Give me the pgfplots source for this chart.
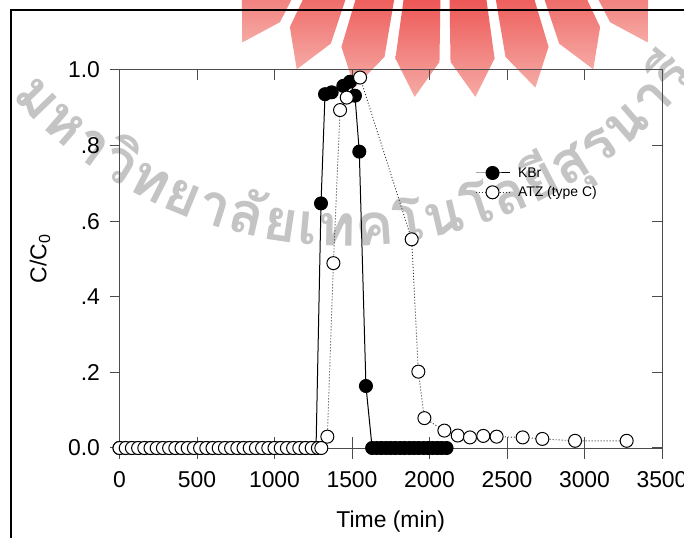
\documentclass[border=0pt]{standalone}
\usepackage{fontspec}
\setmainfont{Liberation Sans}
\newfontfamily\thaifont[Script=Thai]{Loma}
\usepackage{pgfplots}
\pgfplotsset{compat=1.18}
\usetikzlibrary{decorations.text}

\definecolor{axisgray}{gray}{0.3}
\definecolor{wmred}{RGB}{232,44,44}
\definecolor{wmpink}{RGB}{246,170,165}
\definecolor{wmgray}{RGB}{196,196,196}

\begin{document}
\begin{tikzpicture}
\useasboundingbox (0,0) rectangle (684bp,538bp);

% background emblem: a fan of pointed blades
\begin{scope}[x=1bp,y=1bp,shift={(445,838)}]
  \foreach \k in {0,...,7} {
    \pgfmathsetmacro\a{-30.625+8.75*\k}
    \shade[top color=wmred, bottom color=wmpink]
      ({270+\a-3.5}:250) -- ({270+\a-3.5}:362) -- ({270+\a}:398)
      -- ({270+\a+3.5}:362) -- ({270+\a+3.5}:250) -- cycle;
  }
\end{scope}

% university name along an arc
\begin{scope}[x=1bp,y=1bp]
  \path[decorate, decoration={text along path, text color=wmgray,
        text align=fit to path,
        text={|\thaifont\bfseries\fontsize{58}{58}\selectfont|มหา{วิ}ทยา{ลั}ยเทคโนโล{ยี}{สุ}รนา{รี}}}]
    (345,738) ++(221.6:446) arc[start angle=221.6, end angle=322, radius=446];
\end{scope}

% tick marks: left out, bottom crossing, top and right in
\begin{scope}[x=1bp,y=1bp,axisgray,line width=1bp]
  \foreach \k in {0,...,7} {
    \pgfmathsetmacro\xx{119.5+77.5*\k}
    \draw (\xx,79) -- (\xx,101);
    \draw (\xx,468) -- (\xx,458);
  }
  \foreach \k in {0,...,5} {
    \pgfmathsetmacro\yy{90+75.6*\k}
    \draw (109.5,\yy) -- (119.5,\yy);
    \draw (662,\yy) -- (652,\yy);
  }
\end{scope}

\begin{axis}[
  at={(119.5bp,90bp)}, anchor=south west,
  width=542.5bp, height=378bp, scale only axis,
  xmin=0, xmax=3500, ymin=0, ymax=1,
  xtick={0,500,...,3500},
  ytick={0,0.2,0.4,0.6,0.8,1.0},
  yticklabels={0.0,.2,.4,.6,.8,1.0},
  scaled x ticks=false,
  /pgf/number format/1000 sep={},
  /pgf/number format/assume math mode=true,
  axis line style={draw=axisgray, line width=1bp},
  tick style={draw=none},
  ticklabel style={font=\fontsize{23}{26}\selectfont},
  xticklabel style={yshift=-20bp},
  yticklabel style={xshift=-16bp},
  xlabel={Time (min)},
  ylabel={C/C\textsubscript{0}},
  every axis x label/.style={at={(axis description cs:0.5,0)}, anchor=center,
    yshift=-74bp, font=\fontsize{23}{26}\selectfont},
  every axis y label/.style={at={(axis description cs:-0.1466,0.5)}, anchor=center,
    rotate=90, font=\fontsize{23}{26}\selectfont},
  clip=false,
  legend style={draw=none, fill=none, at={(0.655,0.748)}, anchor=north west,
    font=\fontsize{14}{16}\selectfont, inner sep=0pt, row sep=4bp,
    cells={anchor=west},
    /tikz/every odd column/.append style={column sep=6bp}},
  legend image code/.code={
    \draw[mark repeat=2, mark phase=2, #1] plot coordinates {(0bp,0bp) (17bp,0bp) (34bp,0bp)};},
]

% KBr
\addplot[black, line width=1bp, mark=*, mark size=6.5bp,
  mark options={solid, fill=black}] coordinates {
  (0,0) (40,0) (80,0) (120,0) (160,0) (200,0) (240,0) (280,0) (320,0) (360,0)
  (400,0) (440,0) (480,0) (520,0) (560,0) (600,0) (640,0) (680,0) (720,0) (760,0)
  (800,0) (840,0) (880,0) (920,0) (960,0) (1000,0) (1040,0) (1080,0) (1120,0)
  (1160,0) (1200,0) (1240,0) (1268,0)
  (1300,0.647) (1326,0.936) (1369,0.941) (1444,0.958) (1487,0.969)
  (1519,0.932) (1547,0.784) (1590,0.164)
  (1630,0) (1660,0) (1690,0) (1720,0) (1750,0) (1780,0) (1810,0) (1840,0)
  (1870,0) (1900,0) (1930,0) (1960,0) (1990,0) (2020,0) (2050,0) (2080,0) (2110,0)
};
\addlegendentry{KBr}

% ATZ (type C)
\addplot[black!80, line width=0.9bp, dash pattern=on 1bp off 2bp, mark=*, mark size=6.5bp,
  mark options={solid, fill=white, draw=black, line width=1bp}] coordinates {
  (0,0) (40,0) (80,0) (120,0) (160,0) (200,0) (240,0) (280,0) (320,0) (360,0)
  (400,0) (440,0) (480,0) (520,0) (560,0) (600,0) (640,0) (680,0) (720,0) (760,0)
  (800,0) (840,0) (880,0) (920,0) (960,0) (1000,0) (1040,0) (1080,0) (1120,0)
  (1160,0) (1200,0) (1240,0) (1280,0) (1302,0)
  (1341,0.030) (1380,0.489) (1423,0.894) (1466,0.927) (1552,0.980)
  (1885,0.552) (1928,0.202) (1967,0.079) (2096,0.046) (2182,0.033)
  (2261,0.028) (2347,0.032) (2433,0.030) (2601,0.028) (2728,0.024)
  (2939,0.019) (3272,0.019)
};
\addlegendentry{ATZ (type C)}
\end{axis}

% outer frame
\begin{scope}[x=1bp,y=1bp]
  \draw[line width=1.6bp] (11,-20) -- (11,528) -- (720,528);
\end{scope}
\end{tikzpicture}
\end{document}
